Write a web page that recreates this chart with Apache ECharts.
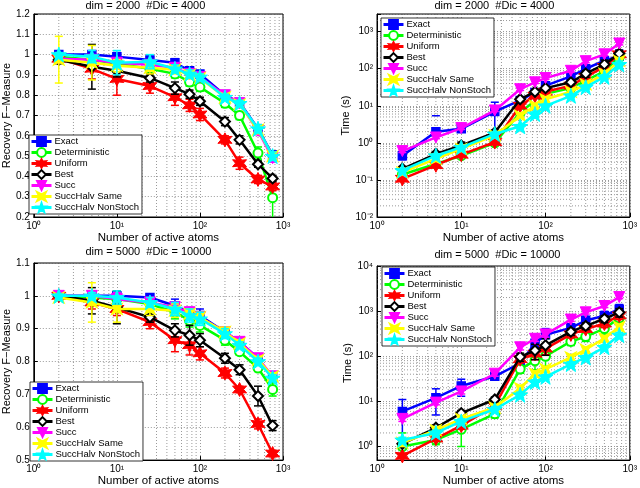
<!DOCTYPE html>
<html>
<head>
<meta charset="utf-8">
<script src="https://cdn.jsdelivr.net/npm/echarts@6/dist/echarts.min.js"></script>
<style>
  html, body { margin: 0; padding: 0; background: #fff; }
  #chart { width: 640px; height: 488px; }
</style>
</head>
<body>
<div id="chart"></div>
<script>
/* ---------------- data ---------------- */
const atoms = [2, 5, 10, 25, 50, 75, 100, 200, 300, 500, 750];
const methods = ['Exact', 'Deterministic', 'Uniform', 'Best', 'Succ', 'SuccHalv Same', 'SuccHalv NonStoch'];
const minorAtoms = [2, 3, 4, 5, 6, 7, 8, 9, 20, 30, 40, 50, 60, 70, 80, 90, 200, 300, 400, 500, 600, 700, 800, 900];

// rows follow the order of `methods`
const fm2000 = [
  [1.0, 1.0, 0.99, 0.973, 0.96, 0.92, 0.905, 0.80, 0.765, 0.635, 0.505],
  [0.99, 0.975, 0.955, 0.93, 0.905, 0.865, 0.84, 0.76, 0.70, 0.515, 0.295],
  [0.98, 0.93, 0.88, 0.845, 0.79, 0.75, 0.705, 0.58, 0.465, 0.385, 0.35],
  [0.975, 0.94, 0.92, 0.885, 0.835, 0.805, 0.77, 0.67, 0.58, 0.46, 0.39],
  [0.98, 0.975, 0.96, 0.95, 0.935, 0.905, 0.89, 0.80, 0.76, 0.625, 0.49],
  [0.975, 0.96, 0.945, 0.935, 0.925, 0.90, 0.885, 0.79, 0.755, 0.63, 0.50],
  [1.0, 0.99, 0.96, 0.965, 0.93, 0.905, 0.89, 0.79, 0.76, 0.635, 0.50]
];
const fm2000Err = [
  [0.01, 0.01, 0.02, 0.02, 0.02, 0.015, 0.015, 0.015, 0.015, 0.02, 0.02],
  [0.01, 0.02, 0.02, 0.02, 0.02, 0.02, 0.02, 0.02, 0.02, 0.03, 0.1],
  [0.02, 0.05, 0.08, 0.035, 0.04, 0.03, 0.03, 0.02, 0.03, 0.02, 0.02],
  [0.02, 0.11, 0.03, 0.02, 0.03, 0.02, 0.02, 0.02, 0.02, 0.015, 0.015],
  [0.02, 0.02, 0.02, 0.02, 0.02, 0.02, 0.015, 0.015, 0.015, 0.02, 0.02],
  [0.115, 0.085, 0.03, 0.03, 0.02, 0.02, 0.015, 0.015, 0.015, 0.02, 0.02],
  [0.01, 0.03, 0.06, 0.035, 0.02, 0.02, 0.015, 0.015, 0.015, 0.02, 0.02]
];
const time2000 = [
  [0.45, 2.0, 2.4, 7.0, 14, 23, 35, 62, 100, 165, 220],
  [0.14, 0.27, 0.45, 1.0, 6.6, 13.7, 21, 30, 47, 87, 208],
  [0.107, 0.25, 0.48, 1.05, 10, 18.6, 24, 35, 60, 112, 245],
  [0.2, 0.5, 0.85, 1.9, 15, 24, 30, 43, 74, 131, 256],
  [0.6, 1.4, 2.5, 7.5, 28, 43, 56, 88, 160, 245, 480],
  [0.16, 0.37, 0.69, 1.6, 5.4, 10, 15, 24, 38, 74, 163],
  [0.18, 0.45, 0.76, 1.74, 2.8, 6, 10, 18.6, 32, 60, 131]
];
const time2000Err = [
  [0.1, 3.4, 0.4, 5.5, 2, 3, 5, 10, 20, 40, 100],
  [0.02, 0.04, 0.05, 0.1, 1, 2, 3, 5, 8, 15, 40],
  [0.01, 0.03, 0.05, 0.1, 1, 2, 3, 5, 10, 20, 50],
  [0.03, 0.08, 0.2, 0.3, 2, 3, 4, 6, 15, 40, 60],
  [0.05, 0.1, 0.2, 0.5, 2, 3, 4, 8, 15, 20, 40],
  [0.02, 0.05, 0.08, 0.2, 0.5, 1, 2, 3, 5, 10, 30],
  [0.02, 0.05, 0.08, 0.2, 0.3, 0.8, 1, 2, 4, 8, 30]
];
const fm5000 = [
  [1.0, 1.0, 1.0, 0.995, 0.97, 0.95, 0.94, 0.89, 0.86, 0.81, 0.75],
  [1.0, 0.995, 0.99, 0.975, 0.95, 0.925, 0.91, 0.865, 0.83, 0.78, 0.715],
  [1.0, 0.98, 0.96, 0.92, 0.865, 0.85, 0.825, 0.765, 0.715, 0.61, 0.52],
  [1.0, 0.985, 0.965, 0.935, 0.895, 0.88, 0.865, 0.81, 0.775, 0.695, 0.605],
  [1.0, 1.0, 0.99, 0.98, 0.965, 0.95, 0.935, 0.89, 0.86, 0.81, 0.755],
  [0.995, 0.98, 0.96, 0.96, 0.955, 0.945, 0.935, 0.89, 0.855, 0.805, 0.755],
  [1.0, 1.0, 0.995, 0.98, 0.96, 0.94, 0.93, 0.885, 0.85, 0.80, 0.75]
];
const fm5000Err = [
  [0.005, 0.01, 0.01, 0.01, 0.02, 0.015, 0.02, 0.015, 0.01, 0.01, 0.01],
  [0.005, 0.01, 0.01, 0.01, 0.02, 0.02, 0.02, 0.015, 0.01, 0.01, 0.02],
  [0.005, 0.02, 0.02, 0.02, 0.035, 0.03, 0.02, 0.015, 0.01, 0.015, 0.01],
  [0.005, 0.04, 0.05, 0.015, 0.02, 0.03, 0.02, 0.015, 0.015, 0.03, 0.015],
  [0.005, 0.01, 0.02, 0.01, 0.01, 0.01, 0.01, 0.01, 0.01, 0.01, 0.01],
  [0.005, 0.06, 0.04, 0.02, 0.02, 0.015, 0.015, 0.015, 0.01, 0.01, 0.01],
  [0.005, 0.01, 0.02, 0.015, 0.02, 0.02, 0.02, 0.015, 0.01, 0.01, 0.01]
];
const time5000 = [
  [6, 12, 22, 36, 70, 195, 300, 425, 620, 790, 1100],
  [1.0, 1.4, 2.4, 5.3, 52, 80, 100, 213, 273, 410, 700],
  [0.62, 1.5, 2.9, 8, 86, 114, 148, 305, 400, 530, 800],
  [1.15, 2.6, 5.5, 11, 97, 134, 175, 350, 470, 675, 940],
  [4.1, 9.4, 16.6, 41, 158, 244, 305, 650, 940, 1300, 2050],
  [1.2, 2.3, 4.1, 7.3, 19.6, 41, 52, 94, 141, 250, 445],
  [1.4, 2.0, 3.6, 6.7, 14, 27, 35, 67, 94, 158, 295]
];
const time5000Err = [
  [5, 7, 9, 5, 15, 110, 110, 100, 150, 200, 300],
  [1.0, 0.3, 1.4, 1, 10, 30, 40, 40, 60, 100, 150],
  [0.05, 0.2, 0.5, 1, 15, 30, 40, 50, 60, 100, 150],
  [0.2, 0.4, 0.8, 1.5, 20, 50, 70, 60, 80, 120, 200],
  [0.5, 1, 2, 5, 20, 30, 40, 60, 80, 100, 150],
  [0.2, 0.4, 0.6, 1, 3, 5, 6, 10, 15, 30, 60],
  [0.2, 0.3, 0.5, 1, 2, 3, 4, 8, 10, 20, 40]
];

/* ---------------- styles ---------------- */
const colors = ['#0000ff', '#00ff00', '#ff0000', '#000000', '#ff00ff', '#ffff00', '#00ffff'];

function starPath(n, inner, rot) {
  let d = '';
  for (let k = 0; k < 2 * n; k++) {
    const r = k % 2 ? inner : 1;
    const a = Math.PI * k / n - Math.PI / 2 + (rot || 0);
    d += (k ? 'L' : 'M') + (50 + 50 * r * Math.cos(a)).toFixed(1) + ' ' + (50 + 50 * r * Math.sin(a)).toFixed(1);
  }
  return 'path://' + d + 'Z';
}
const markers = [
  { symbol: 'rect', size: 8, border: 1.5 },
  { symbol: 'emptyCircle', size: 9, border: 2.5 },
  { symbol: starPath(6, 0.5), size: 14, border: 1 },
  { symbol: 'emptyDiamond', size: 10, border: 2.5 },
  { symbol: 'triangle', size: 11, border: 1, rotate: 180 },
  { symbol: starPath(4, 0.35, Math.PI / 4), size: 10, border: 1.5 },
  { symbol: starPath(5, 0.4), size: 15, border: 1 }
];

const font = 'Liberation Sans, Arial, Helvetica, sans-serif';
const gridDot = { stroke: '#555', lineWidth: 0.6, lineDash: [1, 2] };

const sup = { '0': '⁰', '1': '¹', '2': '²', '3': '³', '4': '⁴', '-': '⁻' };
function powLabel(v) {
  const e = Math.log10(v);
  if (Math.abs(e - Math.round(e)) > 1e-6) return '';
  return '10' + String(Math.round(e)).split('').map(c => sup[c]).join('');
}

function decadeMinors(lo, hi) {
  const out = [];
  for (let e = Math.floor(Math.log10(lo)); e <= Math.ceil(Math.log10(hi)); e++) {
    for (let m = 2; m <= 9; m++) {
      const v = m * Math.pow(10, e);
      if (v > lo && v < hi) out.push(v);
    }
  }
  return out;
}

/* ---------------- panels ---------------- */
const panels = [
  { title: 'dim = 2000  #Dic = 4000', vals: fm2000, errs: fm2000Err, log: false, ymin: 0.2, ymax: 1.2,
    yName: 'Recovery F\u2212Measure', yGap: 13,
    grid: { left: 28, top: 14, width: 255, height: 203 }, legend: { left: 29, top: 135 }, titleTop: 0, xGap: 14 },
  { title: 'dim = 2000  #Dic = 4000', vals: time2000, errs: time2000Err, log: true, ymin: 0.01, ymax: 3000,
    yName: 'Time (s)', yGap: 19,
    grid: { left: 377, top: 14, width: 255, height: 203 }, legend: { left: 381, top: 18 }, titleTop: 0, xGap: 14 },
  { title: 'dim = 5000  #Dic = 10000', vals: fm5000, errs: fm5000Err, log: false, ymin: 0.5, ymax: 1.1,
    yName: 'Recovery F\u2212Measure', yGap: 13,
    grid: { left: 28, top: 263, width: 255, height: 202 }, legend: { left: 30, top: 382 }, titleTop: 246, xGap: 12 },
  { title: 'dim = 5000  #Dic = 10000', vals: time5000, errs: time5000Err, log: true, ymin: 0.5, ymax: 10000,
    yName: 'Time (s)', yGap: 19,
    grid: { left: 377, top: 266, width: 255, height: 200 }, legend: { left: 382, top: 267 }, titleTop: 249, xGap: 12 }
];

const chart = echarts.init(document.getElementById('chart'), null, { renderer: 'canvas' });

const grids = [], xAxes = [], yAxes = [], legends = [], graphics = [], series = [];

panels.forEach((p, pi) => {
  grids.push(Object.assign({ show: true, borderColor: '#000', borderWidth: 1, backgroundColor: '#fff' }, p.grid));

  graphics.push({
    type: 'text', left: p.grid.left + p.grid.width / 2 - 70, top: p.titleTop,
    style: { text: p.title, font: '11px ' + font, fill: '#000', width: 140, align: 'center' }
  });

  xAxes.push({
    type: 'log', gridIndex: pi, min: 1, max: 1000, logBase: 10,
    name: 'Number of active atoms', nameLocation: 'middle', nameGap: p.xGap,
    nameTextStyle: { fontSize: 11.5, fontFamily: font, color: '#000' },
    axisLine: { lineStyle: { color: '#000', width: 1 } },
    axisTick: { inside: true, length: 4, lineStyle: { color: '#000' } },
    axisLabel: { fontSize: 10, fontFamily: font, color: '#000', margin: 4, formatter: powLabel,
                 showMinLabel: true, showMaxLabel: true },
    splitLine: { show: true, lineStyle: { color: '#555', width: 0.6, type: [1, 2] } }
  });

  const yAxis = {
    type: p.log ? 'log' : 'value', gridIndex: pi, min: p.ymin, max: p.ymax,
    name: p.yName, nameLocation: 'middle', nameGap: p.yGap,
    nameTextStyle: { fontSize: 11, fontFamily: font, color: '#000' },
    axisLine: { show: true, lineStyle: { color: '#000', width: 1 } },
    axisTick: { show: true, inside: true, length: 4, lineStyle: { color: '#000' } },
    axisLabel: { fontSize: 10, fontFamily: font, color: '#000', margin: 4, showMinLabel: true, showMaxLabel: true },
    splitLine: { show: true, lineStyle: { color: '#555', width: 0.6, type: [1, 2] } }
  };
  if (p.log) { yAxis.logBase = 10; yAxis.axisLabel.formatter = powLabel; }
  else { yAxis.interval = 0.1; yAxis.axisLabel.formatter = v => String(+v.toFixed(1)); }
  yAxes.push(yAxis);

  legends.push({
    data: methods, orient: 'vertical', left: p.legend.left, top: p.legend.top,
    itemWidth: 20, itemHeight: 11, itemGap: 0, padding: [1, 3, 1, 1],
    backgroundColor: '#fff', borderColor: '#000', borderWidth: 0.8, borderRadius: 0,
    lineStyle: { width: 3 },
    textStyle: { fontSize: 9.5, fontFamily: font, color: '#000', lineHeight: 11, padding: [0, 0, 0, -2] },
    selectedMode: false
  });

  // minor grid lines (log decades 2..9)
  series.push({
    type: 'custom', name: 'minor-x-' + pi, xAxisIndex: pi, yAxisIndex: pi, silent: true, z: 1,
    data: minorAtoms.map(v => [v, p.ymin]),
    renderItem: (params, api) => {
      const cs = params.coordSys;
      const px = api.coord([api.value(0), api.value(1)])[0];
      return { type: 'line', shape: { x1: px, y1: cs.y, x2: px, y2: cs.y + cs.height }, style: gridDot };
    }
  });
  if (p.log) {
    series.push({
      type: 'custom', name: 'minor-y-' + pi, xAxisIndex: pi, yAxisIndex: pi, silent: true, z: 1,
      data: decadeMinors(p.ymin, p.ymax).map(v => [1, v]),
      renderItem: (params, api) => {
        const cs = params.coordSys;
        const py = api.coord([api.value(0), api.value(1)])[1];
        return { type: 'line', shape: { x1: cs.x, y1: py, x2: cs.x + cs.width, y2: py }, style: gridDot };
      }
    });
  }

  methods.forEach((m, mi) => {
    const c = colors[mi], mk = markers[mi];
    const vals = p.vals[mi], errs = p.errs[mi];
    series.push({
      type: 'line', name: m, xAxisIndex: pi, yAxisIndex: pi, z: 3 + mi,
      data: atoms.map((x, k) => [x, vals[k]]),
      symbol: mk.symbol, symbolSize: mk.size, symbolRotate: mk.rotate || 0,
      showAllSymbol: true,
      lineStyle: { color: c, width: 2.5 },
      itemStyle: { color: c, borderColor: c, borderWidth: mk.border },
      emphasis: { disabled: true }
    });
    series.push({
      type: 'custom', name: m + ' std', xAxisIndex: pi, yAxisIndex: pi, z: 3 + mi, silent: true, clip: true,
      data: atoms.map((x, k) => [x, vals[k] - errs[k], vals[k] + errs[k]]),
      encode: { x: 0, y: [1, 2] },
      renderItem: (params, api) => {
        const x = api.value(0), lo = api.value(1), hi = api.value(2);
        const top = api.coord([x, hi]);
        const cap = 4;
        const st = { stroke: c, lineWidth: 1.5 };
        const children = [
          { type: 'line', shape: { x1: top[0] - cap, y1: top[1], x2: top[0] + cap, y2: top[1] }, style: st }
        ];
        if (!p.log || lo > 0) {
          const bot = api.coord([x, lo]);
          children.push({ type: 'line', shape: { x1: top[0], y1: top[1], x2: bot[0], y2: bot[1] }, style: st });
          children.push({ type: 'line', shape: { x1: bot[0] - cap, y1: bot[1], x2: bot[0] + cap, y2: bot[1] }, style: st });
        }
        return { type: 'group', children: children };
      }
    });
  });
});

chart.setOption({
  animation: false,
  backgroundColor: '#fff',
  textStyle: { fontFamily: font },
  grid: grids,
  xAxis: xAxes,
  yAxis: yAxes,
  legend: legends,
  graphic: graphics,
  series: series
});

window.onresize = function () {
  chart.resize();
};
</script>
</body>
</html>
